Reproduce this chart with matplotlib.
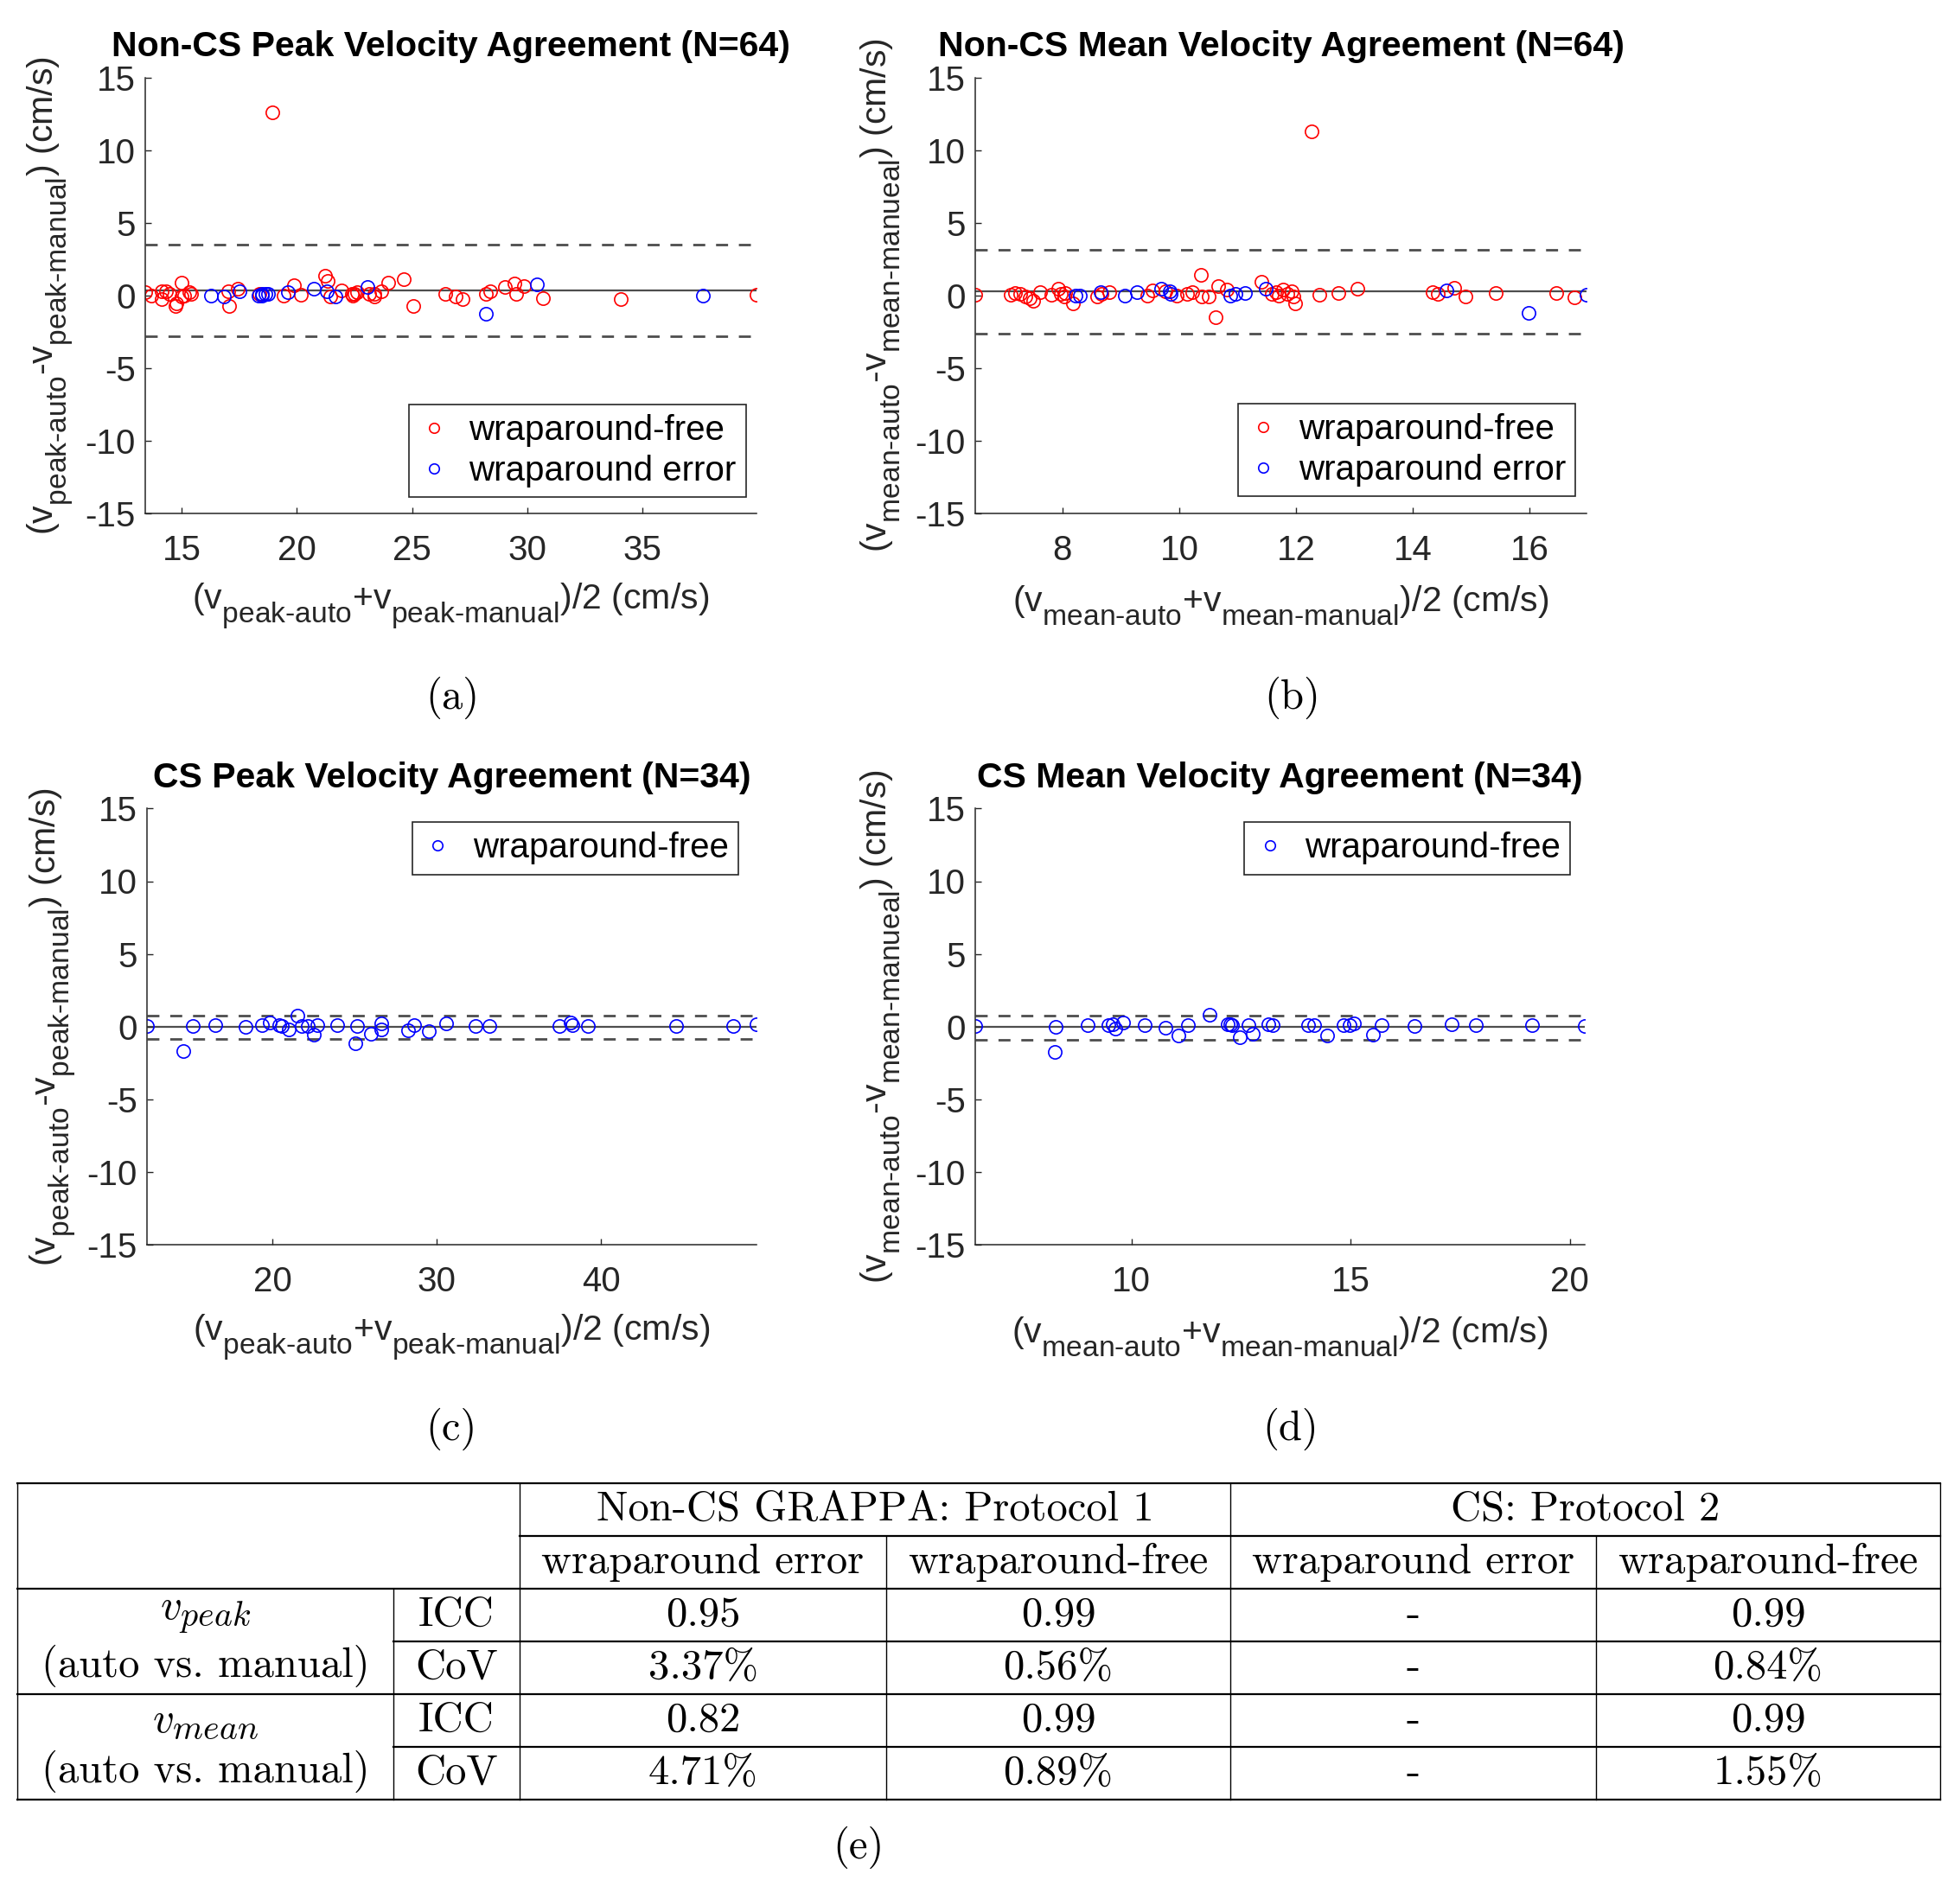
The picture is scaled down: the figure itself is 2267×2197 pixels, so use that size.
import matplotlib
matplotlib.use("Agg")
import matplotlib.pyplot as plt
import matplotlib._mathtext as mathtext_internal
import numpy as np

plt.rcParams['font.family'] = ['Liberation Sans', 'DejaVu Sans']
plt.rcParams['axes.unicode_minus'] = False
plt.rcParams['mathtext.fontset'] = 'custom'
plt.rcParams['mathtext.rm'] = 'Liberation Sans'
plt.rcParams['mathtext.it'] = 'Liberation Sans:italic'
plt.rcParams['mathtext.bf'] = 'Liberation Sans:bold'
# MATLAB tex subscripts: only a little smaller, and dropped lower
mathtext_internal.SHRINK_FACTOR = 0.82
mathtext_internal.FontConstantsBase.sub1 = 0.75

# ---- data ----
# (a) Non-CS peak velocity
a_free_x = [13.42, 13.67, 14.12, 14.12, 14.33, 14.46, 14.77, 14.74, 14.99, 15.11, 15.33, 15.40, 15.00,
            17.01, 17.07, 17.45, 18.38, 19.44, 19.88, 20.17, 21.23, 21.32, 21.44, 21.94, 22.38, 22.44,
            22.50, 22.63, 23.13, 23.35, 23.38, 23.65, 23.98, 24.63, 25.07, 26.44, 26.91, 27.20, 28.20,
            28.41, 29.03, 29.44, 29.53, 29.84, 30.69, 34.05, 39.95, 18.95]
a_free_y = [0.25, 0.01, 0.27, -0.24, 0.27, 0.11, -0.52, -0.71, 0.87, 0.01, 0.25, 0.13, -0.08,
            0.27, -0.71, 0.47, 0.13, 0.01, 0.71, 0.07, 1.34, 1.00, -0.09, 0.35, 0.11, 0.01,
            0.11, 0.21, 0.11, -0.05, 0.11, 0.27, 0.90, 1.10, -0.71, 0.11, -0.09, -0.24, 0.13,
            0.27, 0.61, 0.80, 0.11, 0.67, -0.17, -0.24, 0.05, 12.6]
a_err_x = [16.29, 16.82, 17.51, 18.32, 18.48, 18.50, 18.63, 18.75, 19.62, 20.72, 21.30, 21.68,
           23.05, 28.20, 30.41, 37.63]
a_err_y = [0.01, -0.05, 0.31, 0.01, 0.11, 0.00, 0.13, 0.11, 0.21, 0.47, 0.27, -0.05,
           0.61, -1.27, 0.75, 0.01]
a_lines = [0.35, 3.52, -2.80]  # mean, upper, lower

# (b) Non-CS mean velocity
b_free_x = [6.51, 7.12, 7.19, 7.28, 7.37, 7.44, 7.50, 7.62, 7.81, 7.93, 7.98, 8.03, 8.05, 8.18,
            8.60, 8.67, 8.80, 9.46, 9.54, 9.76, 9.96, 10.13, 10.23, 10.37, 10.39, 10.51, 10.67,
            10.62, 10.82, 11.41, 11.58, 11.66, 11.70, 11.78, 11.85, 11.93, 11.95, 11.98, 12.40,
            12.73, 13.05, 14.33, 14.42, 14.70, 14.90, 15.42, 16.45, 16.77, 12.27]
b_free_y = [0.05, 0.05, 0.15, 0.11, -0.05, -0.19, -0.39, 0.21, 0.05, 0.47, 0.11, -0.05, 0.15, -0.52,
            -0.09, 0.11, 0.21, 0.01, 0.35, 0.27, 0.01, 0.11, 0.21, 1.40, -0.09, -0.09, 0.65,
            -1.51, 0.41, 0.95, 0.13, 0.21, 0.00, 0.41, 0.11, 0.27, -0.09, -0.52, 0.05,
            0.15, 0.47, 0.21, 0.11, 0.55, -0.05, 0.15, 0.15, -0.13, 11.3]
b_err_x = [8.23, 8.30, 8.65, 9.07, 9.27, 9.69, 9.84, 9.86, 10.87, 10.97, 11.13, 11.48,
           14.58, 15.98, 16.97]
b_err_y = [0.01, 0.01, 0.21, 0.01, 0.25, 0.47, 0.27, 0.11, 0.01, 0.11, 0.17, 0.47,
           0.35, -1.17, 0.05]
b_lines = [0.27, 3.13, -2.62]

# (c) CS peak velocity
c_x = [12.37, 14.58, 15.18, 16.50, 18.39, 19.39, 19.85, 20.41, 20.59, 20.97, 21.52, 21.78,
       22.17, 22.52, 22.73, 23.92, 25.15, 25.06, 25.99, 26.61, 26.61, 28.27, 28.63, 29.51,
       30.56, 32.38, 33.22, 37.44, 38.14, 38.23, 39.19, 44.55, 48.01, 49.45]
c_y = [0.06, -1.66, 0.06, 0.12, -0.04, 0.12, 0.25, 0.12, 0.02, -0.17, 0.75, 0.06,
       0.02, -0.53, 0.12, 0.12, 0.02, -1.13, -0.48, 0.22, -0.17, -0.27, 0.12, -0.33,
       0.22, 0.06, 0.06, 0.06, 0.30, 0.12, 0.02, 0.02, 0.06, 0.16]
c_lines = [-0.04, 0.75, -0.83]

# (d) CS mean velocity
d_x = [6.44, 8.28, 8.26, 9.00, 9.48, 9.58, 9.64, 9.82, 10.31, 10.78, 11.07, 11.30, 11.79,
       12.19, 12.26, 12.30, 12.68, 12.47, 12.76, 13.13, 13.22, 14.03, 14.17, 14.46, 14.84,
       14.98, 15.07, 15.50, 15.71, 16.46, 17.31, 17.86, 19.13, 20.34]
d_y = [0.06, -0.04, -1.72, 0.12, 0.12, 0.17, -0.14, 0.25, 0.12, -0.08, -0.62, 0.12, 0.81,
       0.17, 0.17, 0.12, 0.12, -0.73, -0.48, 0.17, 0.12, 0.10, 0.10, -0.64, 0.10,
       0.10, 0.20, -0.57, 0.10, 0.05, 0.15, 0.10, 0.10, 0.05]
d_lines = [-0.04, 0.75, -0.88]

# (e) table
col_groups = ['Non-CS GRAPPA: Protocol 1', 'CS: Protocol 2']
sub_cols = ['wraparound error', 'wraparound-free', 'wraparound error', 'wraparound-free']
row_groups = ['$v_{peak}$', '$v_{mean}$']
row_note = '(auto vs. manual)'
metrics = ['ICC', 'CoV']
peak_icc = ['0.95', '0.99', '-', '0.99']
peak_cov = ['3.37%', '0.56%', '-', '0.84%']
mean_icc = ['0.82', '0.99', '-', '0.99']
mean_cov = ['4.71%', '0.89%', '-', '1.55%']

W, H = 2267, 2197
fig = plt.figure(figsize=(W / 100, H / 100), dpi=100)

peak_x = r'(v$_{\text{peak-auto}}$+v$_{\text{peak-manual}}$)/2 (cm/s)'
peak_y = r'(v$_{\text{peak-auto}}$-v$_{\text{peak-manual}}$) (cm/s)'
mean_x = r'(v$_{\text{mean-auto}}$+v$_{\text{mean-manual}}$)/2 (cm/s)'
mean_y = r'(v$_{\text{mean-auto}}$-v$_{\text{mean-manueal}}$) (cm/s)'

axis_gray = '0.15'


def ba_panel(rect, series, lines, xticks, title, xlabel, ylabel, leg_loc, leg_anchor):
    ax = fig.add_axes(rect)
    allx = np.concatenate([np.asarray(s[0]) for s in series])
    mean, up, lo = lines
    ax.axhline(mean, color='0.3', lw=1.6, zorder=1)
    for v in (up, lo):
        ax.axhline(v, color='0.3', lw=2.0, ls=(0, (5, 4.5)), zorder=1)
    for xs, ys, color, label in series:
        ax.plot(xs, ys, 'o', ls='none', mfc='none', mec=color, ms=11, mew=1.2,
                label=label, zorder=2)
    ax.set_xlim(allx.min(), allx.max())
    ax.set_ylim(-15, 15)
    ax.set_yticks([-15, -10, -5, 0, 5, 10, 15])
    ax.set_xticks(xticks)
    for s in ('top', 'right'):
        ax.spines[s].set_visible(False)
    for s in ('left', 'bottom'):
        ax.spines[s].set_color(axis_gray)
        ax.spines[s].set_linewidth(1.1)
    ax.tick_params(axis='both', direction='in', length=5, width=1.0, colors=axis_gray,
                   labelsize=29)
    ax.tick_params(axis='x', pad=17)
    ax.tick_params(axis='y', pad=8)
    ax.text(0.5, 1.07, title, transform=ax.transAxes, ha='center', va='center',
            fontsize=29.5, fontweight='bold', color='black')
    ax.set_xlabel(xlabel, fontsize=29.5, color=axis_gray, va='center')
    ax.xaxis.set_label_coords(0.5, -0.212)
    ax.set_ylabel(ylabel, fontsize=29.5, color=axis_gray, va='center')
    ax.yaxis.set_label_coords(-0.155, 0.5)
    leg = ax.legend(loc=leg_loc, bbox_to_anchor=leg_anchor, borderaxespad=0,
                    fontsize=29, frameon=True, fancybox=False, framealpha=1,
                    edgecolor='0.15', handlelength=0.9, handletextpad=0.55,
                    borderpad=0.28, labelspacing=0.22, markerscale=0.75)
    leg.get_frame().set_linewidth(1.2)
    for t in leg.get_texts():
        t.set_color('black')
    return ax


ba_panel([168 / W, 1 - 594.2 / H, 707 / W, 504.6 / H],
         [(a_free_x, a_free_y, 'red', 'wraparound-free'),
          (a_err_x, a_err_y, 'blue', 'wraparound error')],
         a_lines, [15, 20, 25, 30, 35],
         'Non-CS Peak Velocity Agreement (N=64)', peak_x, peak_y,
         'lower right', (0.983, 0.038))
ba_panel([1128 / W, 1 - 594.2 / H, 707 / W, 504.6 / H],
         [(b_free_x, b_free_y, 'red', 'wraparound-free'),
          (b_err_x, b_err_y, 'blue', 'wraparound error')],
         b_lines, [8, 10, 12, 14, 16],
         'Non-CS Mean Velocity Agreement (N=64)', mean_x, mean_y,
         'lower right', (0.982, 0.04))
ba_panel([170 / W, 1 - 1440 / H, 705 / W, 504.6 / H],
         [(c_x, c_y, 'blue', 'wraparound-free')],
         c_lines, [20, 30, 40],
         'CS Peak Velocity Agreement (N=34)', peak_x, peak_y,
         'upper right', (0.970, 0.969))
ba_panel([1128 / W, 1 - 1440 / H, 705 / W, 504.6 / H],
         [(d_x, d_y, 'blue', 'wraparound-free')],
         d_lines, [10, 15, 20],
         'CS Mean Velocity Agreement (N=34)', mean_x, mean_y,
         'upper right', (0.976, 0.969))

# ---- table and captions, drawn in pixel coordinates ----
tx = fig.add_axes([0, 0, 1, 1], zorder=-1)
tx.set_xlim(0, W)
tx.set_ylim(H, 0)
tx.axis('off')

serif = dict(family='cmr10', fontsize=35, color='black', ha='center', va='center')
for lab, (px, py) in zip(['(a)', '(b)', '(c)', '(d)', '(e)'],
                         [(523, 807), (1495, 807), (522, 1653), (1493, 1653), (993, 2137)]):
    tx.text(px, py, lab, **serif)

cols = [20, 455, 601, 1025, 1423, 1846, 2244]
top, rh = 1716, 61
rows = [top + i * rh for i in range(7)]
lw_h, lw_v = 1.6, 1.0
# horizontal rules
tx.plot([cols[0], cols[-1]], [rows[0]] * 2, color='black', lw=lw_h)
tx.plot([cols[2], cols[-1]], [rows[1]] * 2, color='black', lw=lw_h)
tx.plot([cols[0], cols[-1]], [rows[2]] * 2, color='black', lw=lw_h)
tx.plot([cols[1], cols[-1]], [rows[3]] * 2, color='black', lw=lw_h)
tx.plot([cols[0], cols[-1]], [rows[4]] * 2, color='black', lw=lw_h)
tx.plot([cols[1], cols[-1]], [rows[5]] * 2, color='black', lw=lw_h)
tx.plot([cols[0], cols[-1]], [rows[6]] * 2, color='black', lw=lw_h)
# vertical rules
for c in (cols[0], cols[2], cols[-1]):
    tx.plot([c, c], [rows[0], rows[6]], color='black', lw=lw_v)
tx.plot([cols[4], cols[4]], [rows[0], rows[6]], color='black', lw=lw_v)
for c in (cols[3], cols[5]):
    tx.plot([c, c], [rows[1], rows[6]], color='black', lw=lw_v)
tx.plot([cols[1], cols[1]], [rows[2], rows[6]], color='black', lw=lw_v)

def mid(a, b):
    return (a + b) / 2

tx.text(mid(cols[2], cols[4]), mid(rows[0], rows[1]), col_groups[0], **serif)
tx.text(mid(cols[4], cols[6]), mid(rows[0], rows[1]), col_groups[1], **serif)
for j, lab in enumerate(sub_cols):
    tx.text(mid(cols[j + 2], cols[j + 3]), mid(rows[1], rows[2]), lab, **serif)

body = [peak_icc, peak_cov, mean_icc, mean_cov]
for g in range(2):
    r0 = rows[2 + 2 * g]
    tx.text(mid(cols[0], cols[1]), r0 + 31, row_groups[g], fontsize=35, ha='center',
            va='center', math_fontfamily='cm')
    tx.text(mid(cols[0], cols[1]), r0 + 89, row_note, **serif)
    for k in range(2):
        rr = rows[2 + 2 * g + k]
        tx.text(mid(cols[1], cols[2]), mid(rr, rr + rh), metrics[k], **serif)
        for j, val in enumerate(body[2 * g + k]):
            tx.text(mid(cols[j + 2], cols[j + 3]), mid(rr, rr + rh), val, **serif)

fig.savefig('out.png', dpi=100)
